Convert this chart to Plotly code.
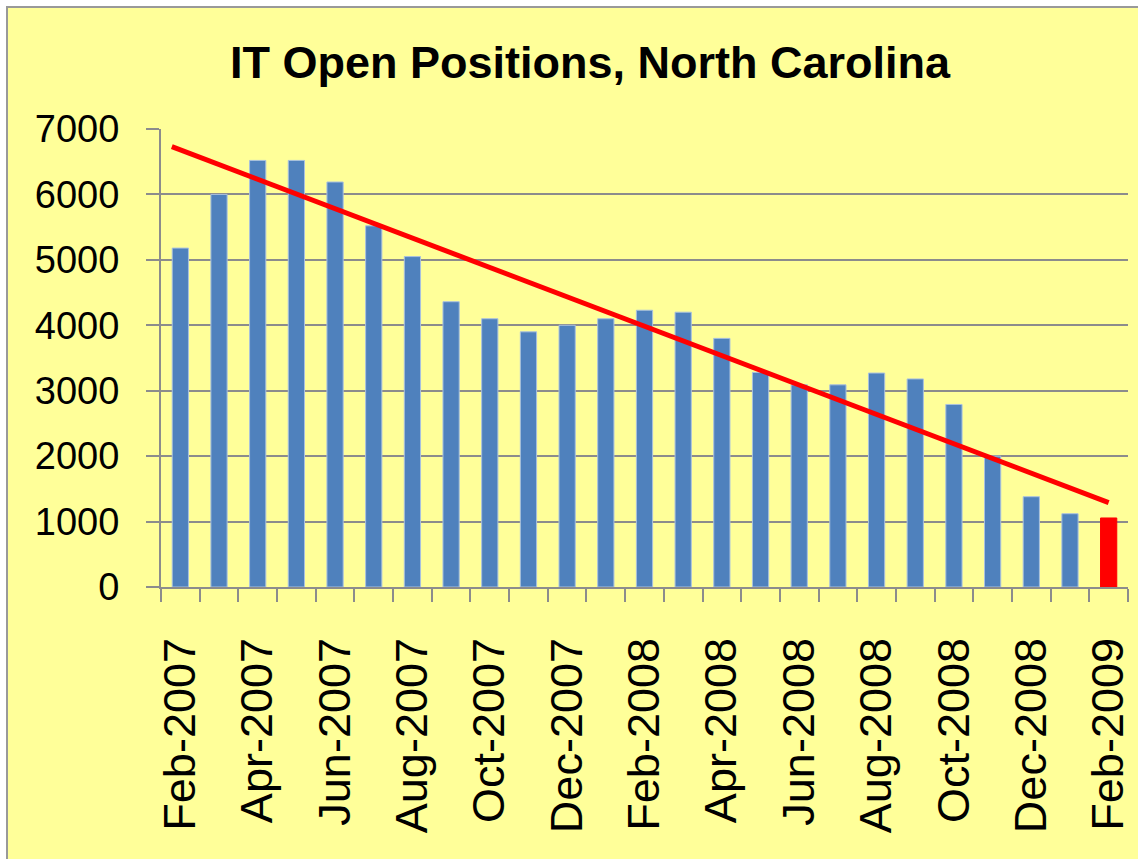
import plotly.graph_objects as go

months = ["Feb-2007", "Mar-2007", "Apr-2007", "May-2007", "Jun-2007", "Jul-2007",
          "Aug-2007", "Sep-2007", "Oct-2007", "Nov-2007", "Dec-2007", "Jan-2008",
          "Feb-2008", "Mar-2008", "Apr-2008", "May-2008", "Jun-2008", "Jul-2008",
          "Aug-2008", "Sep-2008", "Oct-2008", "Nov-2008", "Dec-2008", "Jan-2009",
          "Feb-2009"]
positions = [5180, 6000, 6520, 6520, 6190, 5520, 5050, 4360, 4100, 3900, 4000, 4100,
             4230, 4200, 3800, 3280, 3090, 3090, 3270, 3180, 2790, 2000, 1380, 1120,
             1055]
trend_x = [-0.22, 24]
trend_y = [6730, 1290]

idx = list(range(len(months)))
colors = ["#4F81BD"] * (len(months) - 1) + ["#FF0000"]
line_colors = ["#A9C1DF"] * (len(months) - 1) + ["#FF0000"]

FONT = "Liberation Sans, Arial, sans-serif"

fig = go.Figure()
fig.add_trace(go.Bar(x=idx, y=positions, width=0.42,
                     marker=dict(color=colors, line=dict(color=line_colors, width=1)),
                     showlegend=False))
fig.add_trace(go.Scatter(x=trend_x, y=trend_y, mode="lines",
                         line=dict(color="#FF0000", width=5), showlegend=False))

L, R, T, B = 161, 10, 129, 272
W, H = 1138, 859
pw, ph = W - L - R, H - T - B

fig.add_shape(type="rect", xref="paper", yref="paper", layer="below",
              x0=(7 - L) / pw, x1=(W + 5 - L) / pw,
              y0=-(B + 10) / ph, y1=(T + ph - 7) / ph,
              fillcolor="#FFFF99", line=dict(color="#999999", width=2))

fig.update_layout(
    width=W, height=H,
    margin=dict(l=L, r=R, t=T, b=B),
    paper_bgcolor="white",
    plot_bgcolor="rgba(0,0,0,0)",
    title=dict(text="<b>IT Open Positions, North Carolina</b>", x=590 / W, xref="container",
               xanchor="center", y=1 - 62 / H, yanchor="middle", yref="container",
               font=dict(family=FONT, size=45, color="black")),
)
fig.update_xaxes(range=[-0.5, 24.5], tickvals=idx[::2], ticktext=months[::2],
                 tickangle=-90, ticks="", showgrid=False, zeroline=False,
                 showline=True, linecolor="#8C8C8C", linewidth=2, automargin=False,
                 tickfont=dict(family=FONT, size=45, color="black"),
                 ticklabelstandoff=31,
                 minor=dict(tick0=-0.5, dtick=1, ticks="outside", ticklen=13,
                            tickcolor="#8C8C8C", tickwidth=2, showgrid=False))
fig.update_yaxes(range=[0, 7000], tickvals=[0, 1000, 2000, 3000, 4000, 5000, 6000, 7000],
                 ticks="outside", ticklen=13, tickcolor="#8C8C8C", tickwidth=2,
                 showgrid=True, gridcolor="#8C8C8C", gridwidth=2, zeroline=False,
                 showline=True, linecolor="#8C8C8C", linewidth=2, automargin=False,
                 tickfont=dict(family=FONT, size=38, color="black"),
                 ticklabelstandoff=19)

fig.write_html("out.html", config={"displayModeBar": False},
               post_script="document.body.style.margin='0';document.body.style.overflow='hidden';")
